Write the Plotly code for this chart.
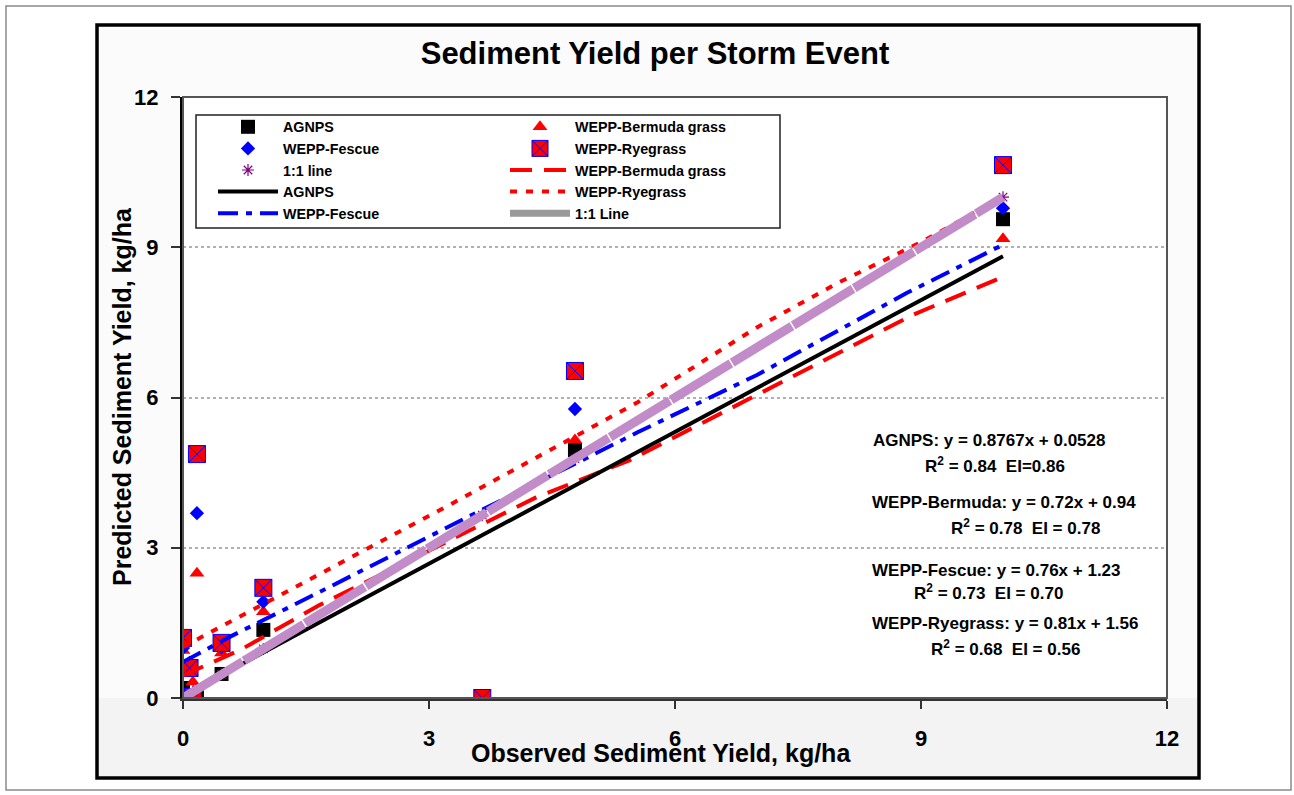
import plotly.graph_objects as go

# ---------------- data ----------------
observed = [0.0, 0.08, 0.12, 0.17, 0.47, 0.98, 3.65, 4.78, 10.0]
agnps = [0.2, 0.6, 0.05, 0.05, 0.48, 1.36, 0.0, 4.95, 9.56]
bermuda = [0.95, 0.6, 0.32, 2.49, 0.9, 1.72, 0.0, 5.15, 9.17]
fescue = [1.0, 0.7, 0.05, 3.69, 1.02, 1.92, 0.0, 5.77, 9.78]
ryegrass = [1.2, 0.6, 0.02, 4.87, 1.1, 2.2, 0.0, 6.53, 10.64]
one_to_one = [0.0, 0.08, 0.12, 0.17, 0.47, 0.98, 3.65, 4.78, 10.0]

agnps_fit_x = [0.0, 10.0]
agnps_fit_y = [0.05, 8.82]
bermuda_fit_x = [0.0, 0.7, 1.67, 4.3, 5.45, 8.9, 10.0]
bermuda_fit_y = [0.45, 0.96, 1.86, 4.0, 4.75, 7.65, 8.41]
fescue_fit_x = [0.0, 0.57, 1.67, 3.54, 4.87, 5.55, 7.0, 8.83, 10.0]
fescue_fit_y = [0.72, 1.22, 2.12, 3.67, 4.75, 5.31, 6.45, 8.09, 9.05]
rye_fit_x = [0.0, 1.83, 3.3, 5.54, 7.0, 8.0, 9.0, 10.0]
rye_fit_y = [1.02, 2.62, 3.9, 5.9, 7.4, 8.3, 9.1, 10.0]
line11_x = [0.0, 10.0]
line11_y = [0.0, 10.0]

tick_vals = [0, 3, 6, 9, 12]
tick_text = ["0", "3", "6", "9", "12"]

title_text = "Sediment Yield per Storm Event"
x_title = "Observed Sediment Yield, kg/ha"
y_title = "Predicted Sediment Yield, kg/ha"

eq_lines = [
    ("AGNPS: y = 0.8767x + 0.0528", "R<sup>2</sup> = 0.84  EI=0.86"),
    ("WEPP-Bermuda: y = 0.72x + 0.94", "R<sup>2</sup> = 0.78  EI = 0.78"),
    ("WEPP-Fescue: y = 0.76x + 1.23", "R<sup>2</sup> = 0.73  EI = 0.70"),
    ("WEPP-Ryegrass: y = 0.81x + 1.56", "R<sup>2</sup> = 0.68  EI = 0.56"),
]

# ---------------- layout geometry (pixels) ----------------
W, H = 1294, 795
L, R, T, B = 183, 1167, 97, 698
FONT = "Liberation Sans, Arial, Helvetica, sans-serif"


def pxx(x):
    return (x - L) / (R - L)


def pxy(y):
    return (B - y) / (B - T)


fig = go.Figure()

# markers
fig.add_trace(go.Scatter(x=observed, y=agnps, mode="markers", name="AGNPS",
                         marker=dict(symbol="square", size=14, color="black"),
                         legend="legend"))
fig.add_trace(go.Scatter(x=observed, y=bermuda, mode="markers", name="WEPP-Bermuda grass",
                         marker=dict(symbol="triangle-up", size=13, color="#ff0000"),
                         legend="legend2"))
fig.add_trace(go.Scatter(x=observed, y=fescue, mode="markers", name="WEPP-Fescue",
                         marker=dict(symbol="diamond", size=11, color="#0000ff"),
                         legend="legend"))
fig.add_trace(go.Scatter(x=observed, y=ryegrass, mode="markers", name="WEPP-Ryegrass",
                         marker=dict(symbol="square-x", size=17, color="#ff0000",
                                     line=dict(color="#0000ff", width=1)),
                         legend="legend2"))
fig.add_trace(go.Scatter(x=observed, y=one_to_one, mode="markers", name="1:1 line",
                         marker=dict(symbol="asterisk-open", size=10, color="#800080",
                                     line=dict(color="#800080", width=1.2)),
                         legend="legend"))

# fit lines
fig.add_trace(go.Scatter(x=bermuda_fit_x, y=bermuda_fit_y, mode="lines", name="WEPP-Bermuda grass",
                         line=dict(color="#ff0000", width=4, dash="22px,12px"),
                         legend="legend2"))
fig.add_trace(go.Scatter(x=agnps_fit_x, y=agnps_fit_y, mode="lines", name="AGNPS",
                         line=dict(color="black", width=4), legend="legend"))
fig.add_trace(go.Scatter(x=rye_fit_x, y=rye_fit_y, mode="lines", name="WEPP-Ryegrass",
                         line=dict(color="#ff0000", width=4, dash="7px,9px"),
                         legend="legend2"))
fig.add_trace(go.Scatter(x=fescue_fit_x, y=fescue_fit_y, mode="lines", name="WEPP-Fescue",
                         line=dict(color="#0000ff", width=4, dash="20px,8px,6px,8px"),
                         legend="legend"))
fig.add_trace(go.Scatter(x=line11_x, y=line11_y, mode="lines", name="1:1 Line",
                         line=dict(color="#c28cc8", width=9, dash="70px,1.5px"),
                         showlegend=False))
# legend-only sample for the 1:1 line (grey patterned in the reference legend)
fig.add_trace(go.Scatter(x=[None], y=[None], mode="lines", name="1:1 Line",
                         line=dict(color="#9a9a9a", width=7), legend="legend2"))

shapes = [
    # outer thin border
    dict(type="rect", xref="paper", yref="paper", x0=pxx(6), x1=pxx(1291), y0=pxy(6), y1=pxy(790),
         line=dict(color="#8a8a8a", width=1.5), fillcolor="white", layer="below"),
    # chart area frame fill
    dict(type="rect", xref="paper", yref="paper", x0=pxx(97), x1=pxx(1199), y0=pxy(25), y1=pxy(778),
         line=dict(width=0), fillcolor="#fbfbfb", layer="below"),
    dict(type="rect", xref="paper", yref="paper", x0=pxx(99), x1=pxx(1197), y0=pxy(B), y1=pxy(776),
         line=dict(width=0), fillcolor="#f3f3f3", layer="below"),
    # plot area white
    dict(type="rect", xref="paper", yref="paper", x0=0, x1=1, y0=0, y1=1,
         line=dict(width=0), fillcolor="white", layer="below"),
    # plot border top / right
    dict(type="rect", xref="paper", yref="paper", x0=0, x1=1, y0=0, y1=1,
         line=dict(color="#555555", width=2), layer="above"),
    # thick frame
    dict(type="rect", xref="paper", yref="paper", x0=pxx(97), x1=pxx(1199), y0=pxy(25), y1=pxy(778),
         line=dict(color="black", width=3.5), layer="above"),
    # legend box
    dict(type="rect", xref="paper", yref="paper", x0=pxx(196), x1=pxx(780), y0=pxy(115), y1=pxy(228),
         line=dict(color="#222222", width=1.5), layer="above"),
]

annotations = [
    dict(text="<b>" + x_title + "</b>", xref="paper", yref="paper", x=pxx(661), y=pxy(753),
         showarrow=False, xanchor="center", yanchor="middle",
         font=dict(family=FONT, size=25, color="black")),
    dict(text="<b>" + y_title + "</b>", xref="paper", yref="paper", x=pxx(122), y=pxy(397),
         showarrow=False, textangle=-90, xanchor="center", yanchor="middle",
         font=dict(family=FONT, size=25, color="black")),
]
eq_pos = [((871, 441), (995, 465)), ((870, 502), (1025, 527)),
          ((870, 570), (988, 592)), ((870, 623), (1005, 648))]
for (head, sub), ((hx, hy), (sx, sy)) in zip(eq_lines, eq_pos):
    annotations.append(dict(text="<b>" + head + "</b>", xref="paper", yref="paper", x=pxx(hx), y=pxy(hy),
                            showarrow=False, xanchor="left", yanchor="middle",
                            font=dict(family=FONT, size=17, color="black")))
    annotations.append(dict(text="<b>" + sub + "</b>", xref="paper", yref="paper", x=pxx(sx), y=pxy(sy),
                            showarrow=False, xanchor="center", yanchor="middle",
                            font=dict(family=FONT, size=17, color="black")))

legend_common = dict(bgcolor="rgba(0,0,0,0)", borderwidth=0, itemwidth=60,
                     font=dict(family=FONT, size=14.3, color="black", weight="bold"),
                     yanchor="top", xanchor="left", tracegroupgap=0, itemclick=False)

fig.update_layout(
    width=W, height=H,
    margin=dict(l=L, r=W - R, t=T, b=H - B, pad=0),
    paper_bgcolor="white", plot_bgcolor="white",
    font=dict(family=FONT, color="black"),
    title=dict(text="<b>" + title_text + "</b>", x=655 / W, y=1 - 53 / H, xanchor="center",
               yanchor="middle", font=dict(family=FONT, size=31, color="black")),
    xaxis=dict(range=[0, 12], tickvals=tick_vals, ticktext=tick_text, showgrid=False, zeroline=False,
               showline=True, linecolor="#333333", linewidth=3, ticks="outside", ticklen=8,
               tickwidth=2, tickcolor="#333333", ticklabelstandoff=11,
               tickfont=dict(family=FONT, size=22, color="black", weight="bold")),
    yaxis=dict(range=[0, 12], tickvals=tick_vals, ticktext=tick_text, showgrid=True,
               gridcolor="#b0b0b0", griddash="dot", gridwidth=2, zeroline=False,
               showline=True, linecolor="black", linewidth=3, ticks="outside", ticklen=9,
               tickwidth=2, tickcolor="#333333", ticklabelstandoff=8,
               tickfont=dict(family=FONT, size=22, color="black", weight="bold")),
    legend=dict(x=pxx(213), y=pxy(111), **legend_common),
    legend2=dict(x=pxx(505), y=pxy(111), **legend_common),
    shapes=shapes,
    annotations=annotations,
    showlegend=True,
)

fig.write_html("out.html")
